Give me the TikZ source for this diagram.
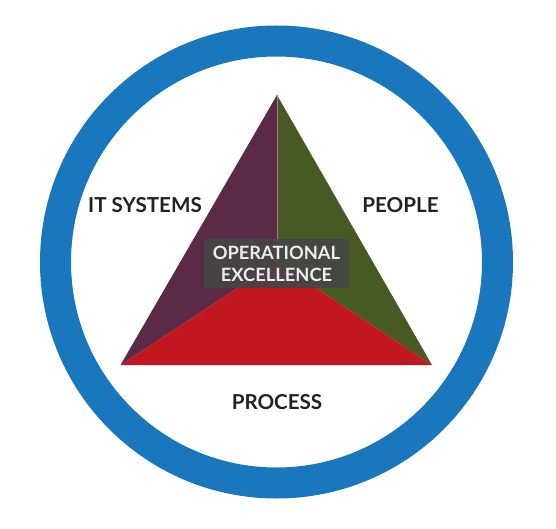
\documentclass[tikz,border=0pt]{standalone}
\usepackage{fontspec}
\setmainfont{Lato}
\definecolor{ringblue}{RGB}{24,119,189}
\definecolor{itpurple}{RGB}{91,42,70}
\definecolor{peoplegreen}{RGB}{71,90,35}
\definecolor{processred}{RGB}{193,23,32}
\definecolor{labelgray}{RGB}{34,34,34}
\tikzset{
  sidelabel/.style={anchor=base, text=labelgray, font=\fontsize{20.6}{23}\selectfont\bfseries},
  corebox/.style={fill=black!73, fill opacity=0.9, text opacity=1, text=white!93!black,
    minimum width=145pt, minimum height=49pt, inner sep=0pt, align=center,
    font=\fontsize{18.3}{22}\selectfont\bfseries}
}
\begin{document}
\begin{tikzpicture}[x=1pt,y=-1pt]
    \useasboundingbox (0,0) rectangle (556,529);
    % outer ring
    \draw[ringblue, line width=31pt] (276.5,262) circle (221pt);
    % triangle corners and the inner point
    \coordinate (top) at (277,95);
    \coordinate (bl) at (120.5,365);
    \coordinate (br) at (432,365);
    \coordinate (mid) at (277,262);
    \fill[itpurple] (top)--(mid)--(bl)--cycle;
    \fill[peoplegreen] (top)--(br)--(mid)--cycle;
    \fill[processred] (bl)--(mid)--(br)--cycle;
    \draw[itpurple!60!white, line width=0.4pt] (top)--(mid);
    \node[corebox] (core) at (276.5,263.5) {OPERATIONAL\\EXCELLENCE};
    \node[sidelabel] (its) at (145,212) {IT SYSTEMS};
    \node[sidelabel] (people) at (400.5,212) {PEOPLE};
    \node[sidelabel] (process) at (277,409) {PROCESS};
\end{tikzpicture}
\end{document}
